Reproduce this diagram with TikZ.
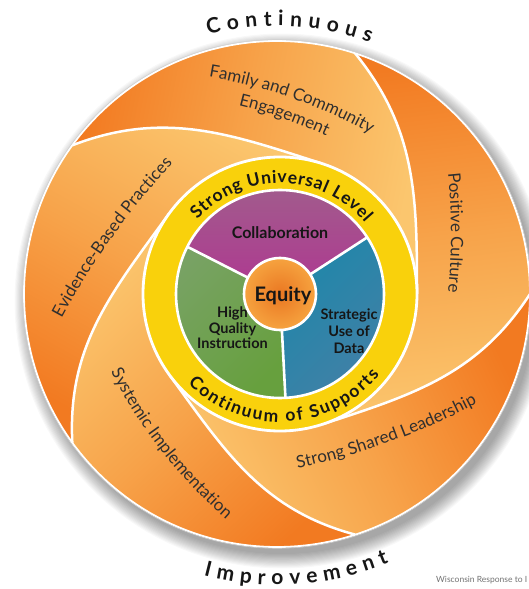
\documentclass[tikz,border=0pt]{standalone}
\usepackage{fontspec}
\setmainfont{Lato}
\usetikzlibrary{calc,decorations.text}
\definecolor{dorange}{HTML}{F27A21}
\definecolor{morange}{HTML}{F7A34A}
\definecolor{lorange}{HTML}{FBC66E}
\definecolor{ringyellow}{HTML}{F9D10C}
\definecolor{purpA}{HTML}{A05F8C}
\definecolor{purpB}{HTML}{AF3791}
\definecolor{greenA}{HTML}{78A264}
\definecolor{greenB}{HTML}{67A03E}
\definecolor{blueA}{HTML}{1E87AA}
\definecolor{blueB}{HTML}{4280A6}
\definecolor{eqA}{HTML}{EA7722}
\definecolor{eqB}{HTML}{F6A33F}
\definecolor{labelgray}{HTML}{2F2F2F}
\definecolor{inktext}{HTML}{161616}
\newcommand\wordfont{\fontsize{21}{21}\selectfont\bfseries}
\newcommand\ringfont{\fontsize{17.5}{17.5}\selectfont\bfseries}
\newcommand\petfont{\fontsize{17}{17}\selectfont}
\begin{document}
\begin{tikzpicture}[x=1pt,y=1pt,
  petal/.style={top color=lorange, bottom color=dorange, middle color=morange},
  boundary/.style={white, line width=2.5pt},
  arctext/.style={decorate, decoration={text along path, text color=inktext, text align=fit to path}},
  petaltext/.style={decorate, decoration={text along path, text color=labelgray, text align=center}},
  pielabel/.style={font=\bfseries\fontsize{14.5}{15.5}\selectfont, text=inktext, align=center, inner sep=0pt}]
\useasboundingbox (0,0) rectangle (529,589);
\fill[white] (0,0) rectangle (529,589);
\coordinate (O) at (277,295);
\coordinate (I) at (280,295);
% shadow
\foreach \i in {1,...,14} \fill[black, opacity=0.026] ($(O)+(5,-7)$) circle[radius=252+\i*1.1];
% petals
\foreach \p in {0,72,144,216,288}{
  \pgfmathsetmacro\pa{\p+72}
  \pgfmathsetmacro\pout{\p-123}
  \pgfmathsetmacro\pin{\p+18}
  \pgfmathsetmacro\rs{\p-72}
  \pgfmathsetmacro\rout{\p+90}
  \pgfmathsetmacro\rin{\p-51}
  \pgfmathsetmacro\sa{\p-173}
  \shade[petal, shading angle=\sa] ($(O)+(\pa:253)$) arc[start angle=\pa, end angle=\p, radius=253]
     to[out=\pout, in=\pin] ($(I)+(\rs:137)$)
     arc[start angle=\rs, end angle=\p, radius=137]
     to[out=\rout, in=\rin] ($(O)+(\pa:253)$) -- cycle;
}
\foreach \p in {0,72,144,216,288}{
  \pgfmathsetmacro\pout{\p-123}
  \pgfmathsetmacro\pin{\p+18}
  \pgfmathsetmacro\rs{\p-72}
  \draw[boundary] ($(O)+(\p:253)$) to[out=\pout, in=\pin] ($(I)+(\rs:137)$);
}
\draw[white, line width=1.8pt] (O) circle[radius=253];
\draw[black!18, line width=0.5pt] (O) circle[radius=254.3];
% ring
\fill[ringyellow] (I) circle[radius=137];
\draw[white, line width=2.8pt] (I) circle[radius=137];
% pie
\shade[top color=purpA, bottom color=purpB] (I) -- ($(I)+(33:104)$) arc[start angle=33, end angle=153, radius=104] -- cycle;
\shade[top color=greenA, bottom color=greenB, shading angle=45] (I) -- ($(I)+(153:104)$) arc[start angle=153, end angle=273, radius=104] -- cycle;
\shade[top color=blueA, bottom color=blueB, shading angle=45] (I) -- ($(I)+(273:104)$) arc[start angle=273, end angle=393, radius=104] -- cycle;
\draw[white, line width=2.6pt] (I) circle[radius=104];
\foreach \a in {33,153,273} \draw[white, line width=2.6pt] (I) -- ($(I)+(\a:104)$);
\shade[inner color=eqA, outer color=eqB] (I) circle[radius=36];
\draw[white, line width=2.6pt] (I) circle[radius=36];
% pie labels
\node[pielabel, font=\bfseries\fontsize{16}{16}\selectfont] (collab) at (280,356) {Collaboration};
\node[pielabel, font=\bfseries\fontsize{20}{20}\selectfont, anchor=base] (equity) at (283,287) {Equity};
\node[pielabel] (hqi) at (232.5,261) {High\\Quality\\Instruction};
\node[pielabel, font=\bfseries\fontsize{14.5}{17}\selectfont] (sud) at (349,258) {Strategic\\Use of\\Data};
% ring texts
\path[arctext, decoration={text={|\ringfont|Strong Universal Level}}] ($(I)+(138:111)$) arc[start angle=138, end angle=40, radius=111];
\path[arctext, decoration={text={|\ringfont|Continuum of Supports}}] ($(I)+(224:128)$) arc[start angle=224, end angle=321, radius=128];
% outer words
\path[arctext, decoration={text={|\wordfont|Continuous}}] ($(O)+(104.9:268)$) arc[start angle=104.9, end angle=69.7, radius=268];
\path[arctext, decoration={text={|\wordfont|Improvement}}] ($(O)+(-104.6:291)$) arc[start angle=-104.6, end angle=-67.4, radius=291];
% petal labels
\coordinate (famc) at (126,19);
\path[petaltext, decoration={text={|\petfont|Family and Community}}] ($(famc)+(95:500)$) arc[start angle=95, end angle=46.2, radius=500];
\path[petaltext, decoration={text={|\petfont|Engagement}}] ($(famc)+(95:478)$) arc[start angle=95, end angle=46.6, radius=478];
\coordinate (pcc) at (-149,356.5);
\path[petaltext, decoration={text={|\petfont|Positive Culture}}] ($(pcc)+(14:600)$) arc[start angle=14, end angle=-14, radius=600];
\coordinate (sslc) at (153.5,802.7);
\path[petaltext, decoration={text={|\petfont|Strong Shared Leadership}}] ($(sslc)+(-90:697)$) arc[start angle=-90, end angle=-50.4, radius=697];
\coordinate (sysc) at (555.5,445.7);
\path[petaltext, decoration={text={|\petfont|Systemic Implementation}}] ($(sysc)+(-172:500)$) arc[start angle=-172, end angle=-112, radius=500];
\coordinate (ebpc) at (722,-85);
\path[petaltext, decoration={text={|\petfont|Evidence-Based Practices}}] ($(ebpc)+(164.4:750)$) arc[start angle=164.4, end angle=124.4, radius=750];
% attribution
\node[anchor=base west, inner sep=0pt, text=black!55, font=\fontsize{8.5}{8.5}\selectfont] (attr) at (436,6) {Wisconsin Response to I};
\end{tikzpicture}
\end{document}
